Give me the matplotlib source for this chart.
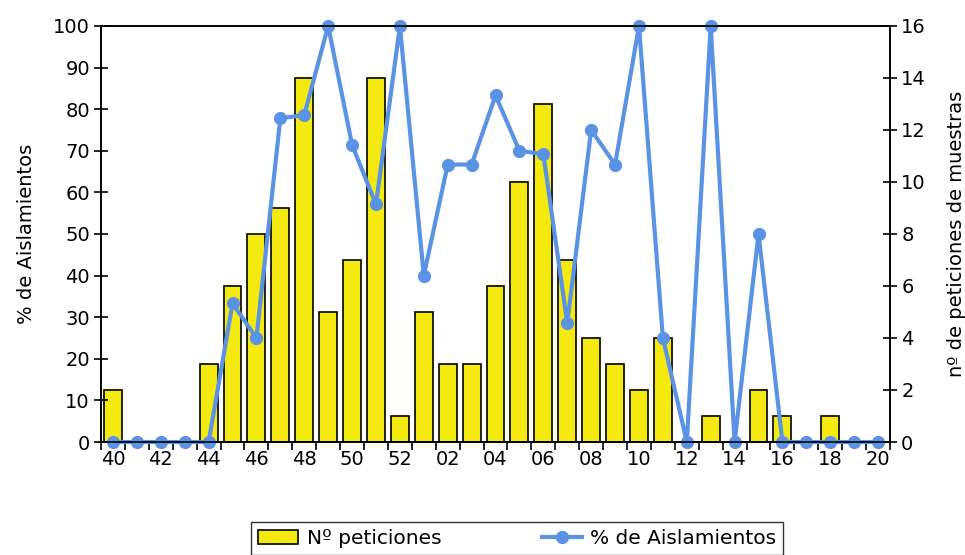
import numpy as np
import matplotlib
matplotlib.use("Agg")
import matplotlib.pyplot as plt

plt.rcParams['font.family'] = ['DejaVu Sans']

semanas = ['40', '41', '42', '43', '44', '45', '46', '47', '48', '49', '50', '51', '52',
           '01', '02', '03', '04', '05', '06', '07', '08', '09', '10', '11', '12', '13',
           '14', '15', '16', '17', '18', '19', '20']
peticiones = [2, 0, 0, 0, 3, 6, 8, 9, 14, 5, 7, 14, 1,
              5, 3, 3, 6, 10, 13, 7, 4, 3, 2, 4, 0, 1,
              0, 2, 1, 0, 1, 0, 0]
aislamientos = [0, 0, 0, 0, 0, 33.3, 25.0, 77.8, 78.6, 100, 71.4, 57.1, 100,
                40.0, 66.7, 66.7, 83.3, 70.0, 69.2, 28.6, 75.0, 66.7, 100, 25.0, 0, 100,
                0, 50.0, 0, 0, 0, 0, 0]

x = np.arange(len(semanas))

fig = plt.figure(figsize=(9.65, 5.55), dpi=100)
ax = fig.add_axes([0.1047, 0.2036, 0.8176, 0.7496])
ax2 = ax.twinx()

# barras en el eje derecho, linea encima en el eje izquierdo
barras = ax2.bar(x, peticiones, width=0.75, color='#f5ea10', edgecolor='black', linewidth=1.2)
ax.set_zorder(ax2.get_zorder() + 1)
ax.patch.set_visible(False)
linea, = ax.plot(x, aislamientos, color='#5b93e4', lw=3, marker='o', ms=8.5, clip_on=False)

ax.set_xlim(-0.5, len(semanas) - 0.5)
ax.set_ylim(0, 100)
ax2.set_ylim(0, 16)
ax.set_yticks(np.arange(0, 101, 10))
ax2.set_yticks(np.arange(0, 17, 2))

ax.set_xticks(x[::2])
ax.set_xticklabels(semanas[::2])
ax.set_xticks(np.arange(-0.5, len(semanas), 1), minor=True)
ax.tick_params(axis='x', which='major', length=0, pad=6, labelsize=14)
ax.tick_params(axis='x', which='minor', length=6, direction='out', width=1.2)
ax.tick_params(axis='y', direction='inout', length=10, width=1.2, labelsize=14, pad=3)
ax2.tick_params(axis='y', direction='inout', length=10, width=1.2, labelsize=14, pad=3)
ax2.tick_params(axis='x', which='both', length=0)

for s in ax.spines.values():
    s.set_linewidth(1.2)
for s in ax2.spines.values():
    s.set_linewidth(1.2)

ax.set_ylabel('% de Aislamientos', fontsize=14, labelpad=12)
ax2.set_ylabel('nº de peticiones de muestras', fontsize=14, labelpad=15)

leg = fig.legend([barras, linea], ['Nº peticiones', '% de Aislamientos'],
                 loc='upper center', bbox_to_anchor=(0.536, 0.06), ncol=2,
                 fontsize=14.5, frameon=True, fancybox=False, edgecolor='black',
                 columnspacing=5, handlelength=2.0, handletextpad=0.4,
                 borderpad=0.35, borderaxespad=0)
leg.get_frame().set_linewidth(1.0)

fig.savefig('out.png', dpi=100)
